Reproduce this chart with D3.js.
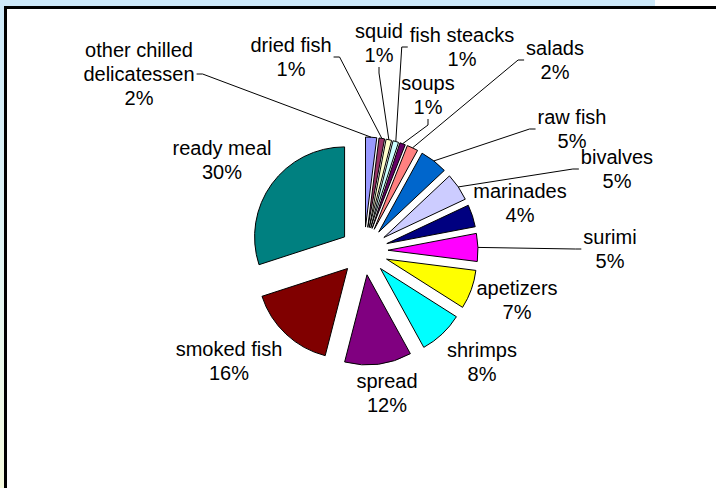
<!DOCTYPE html>
<html>
<head>
<meta charset="utf-8">
<script src="https://cdn.jsdelivr.net/npm/d3@7"></script>
<style>
  html, body { margin: 0; padding: 0; background: #ffffff; }
  svg { display: block; }
</style>
</head>
<body>
<svg id="chart" width="716" height="488"></svg>
<script>
// ---- data ----
const categories = ["other chilled delicatessen", "dried fish", "squid", "fish steacks", "soups", "salads",
  "raw fish", "bivalves", "marinades", "surimi", "apetizers", "shrimps", "spread", "smoked fish", "ready meal"];
const values = [2, 1, 1, 1, 1, 2, 5, 5, 4, 5, 7, 8, 12, 16, 30];
const percentLabels = ["2%", "1%", "1%", "1%", "1%", "2%", "5%", "5%", "4%", "5%", "7%", "8%", "12%", "16%", "30%"];
const labelLines = [["other chilled", "delicatessen"], ["dried fish"], ["squid"], ["fish steacks"], ["soups"], ["salads"],
  ["raw fish"], ["bivalves"], ["marinades"], ["surimi"], ["apetizers"], ["shrimps"], ["spread"], ["smoked fish"], ["ready meal"]];
const hasLeader = [true, true, true, true, true, true, true, true, false, true, false, false, false, false, false];

// ---- styles / layout ----
const colors = ["#9999FF", "#993366", "#FFFFCC", "#CCFFFF", "#660066", "#FF8080", "#0066CC", "#CCCCFF",
  "#000080", "#FF00FF", "#FFFF00", "#00FFFF", "#800080", "#800000", "#008080"];
// label anchor (centre x, first baseline y), manual Excel-like placement
const labelPos = [[139, 57], [291, 52], [379, 38], [462, 42], [428, 90], [555, 55],
  [572, 124], [617, 164], [520, 198], [610, 244], [517, 295], [482, 357], [387, 388], [229, 356], [222, 155]];
const cx = 364, cy = 251, radius = 90, explode = 24;
const fontSize = 20, lineH = 24;
const fontFamily = "'Liberation Sans', Arial, sans-serif";

const svg = d3.select("#chart");

// ---- background frame ----
const grad = svg.append("defs").append("linearGradient")
  .attr("id", "leftGrad").attr("x1", 0).attr("y1", 0).attr("x2", 0).attr("y2", 1);
grad.append("stop").attr("offset", "0%").attr("stop-color", "#cde9f9");
grad.append("stop").attr("offset", "55%").attr("stop-color", "#e2f5f3");
grad.append("stop").attr("offset", "100%").attr("stop-color", "#f6fbdf");
svg.append("rect").attr("x", 0).attr("y", 0).attr("width", 655).attr("height", 7).attr("fill", "#cde9f9");
svg.append("rect").attr("x", 0).attr("y", 0).attr("width", 5).attr("height", 488).attr("fill", "url(#leftGrad)");
svg.append("line").attr("x1", 4).attr("y1", 7.5).attr("x2", 716).attr("y2", 7.5)
  .attr("stroke", "#000").attr("stroke-width", 3);
svg.append("line").attr("x1", 5.5).attr("y1", 6).attr("x2", 5.5).attr("y2", 488)
  .attr("stroke", "#000").attr("stroke-width", 3);

// ---- pie ----
const pie = d3.pie().sort(null).value(d => d).startAngle(0).endAngle(2 * Math.PI);
const arcs = pie(values);
const arc = d3.arc().innerRadius(0).outerRadius(radius);

const g = svg.append("g").attr("transform", `translate(${cx},${cy})`);

function offsetOf(d) {
  const a = (d.startAngle + d.endAngle) / 2;
  return [explode * Math.sin(a), -explode * Math.cos(a)];
}

g.selectAll("path.slice").data(arcs).enter().append("path")
  .attr("class", "slice")
  .attr("d", arc)
  .attr("transform", d => { const o = offsetOf(d); return `translate(${o[0]},${o[1]})`; })
  .attr("fill", (d, i) => colors[i])
  .attr("stroke", "#000")
  .attr("stroke-width", 1)
  .attr("stroke-linejoin", "round");

// ---- labels ----
const labelG = svg.append("g")
  .attr("font-family", fontFamily).attr("font-size", fontSize).attr("fill", "#000");

arcs.forEach((d, i) => {
  const lines = labelLines[i].concat([percentLabels[i]]);
  const t = labelG.append("text")
    .attr("text-anchor", "middle");
  lines.forEach((ln, k) => {
    t.append("tspan").attr("x", labelPos[i][0]).attr("y", labelPos[i][1] + k * lineH).text(ln);
  });
  if (!hasLeader[i]) return;
  const bb = t.node().getBBox();
  const a = (d.startAngle + d.endAngle) / 2;
  const px = cx + (radius + explode) * Math.sin(a);
  const py = cy - (radius + explode) * Math.cos(a);
  let pts;
  const midY = bb.y + bb.height / 2;
  if (px > bb.x + bb.width + 2) {
    const sx = bb.x + bb.width + 2;
    pts = [[sx, midY], [sx + 6, midY], [px, py]];
  } else if (px < bb.x - 2) {
    const sx = bb.x - 2;
    pts = [[sx, midY], [sx - 6, midY], [px, py]];
  } else {
    const sy = bb.y + bb.height + 1;
    const sx = bb.x + bb.width / 2;
    pts = [[sx, sy], [sx, sy + 6], [px, py]];
  }
  svg.append("path")
    .attr("d", d3.line()(pts))
    .attr("fill", "none").attr("stroke", "#000").attr("stroke-width", 1);
});
</script>
</body>
</html>
